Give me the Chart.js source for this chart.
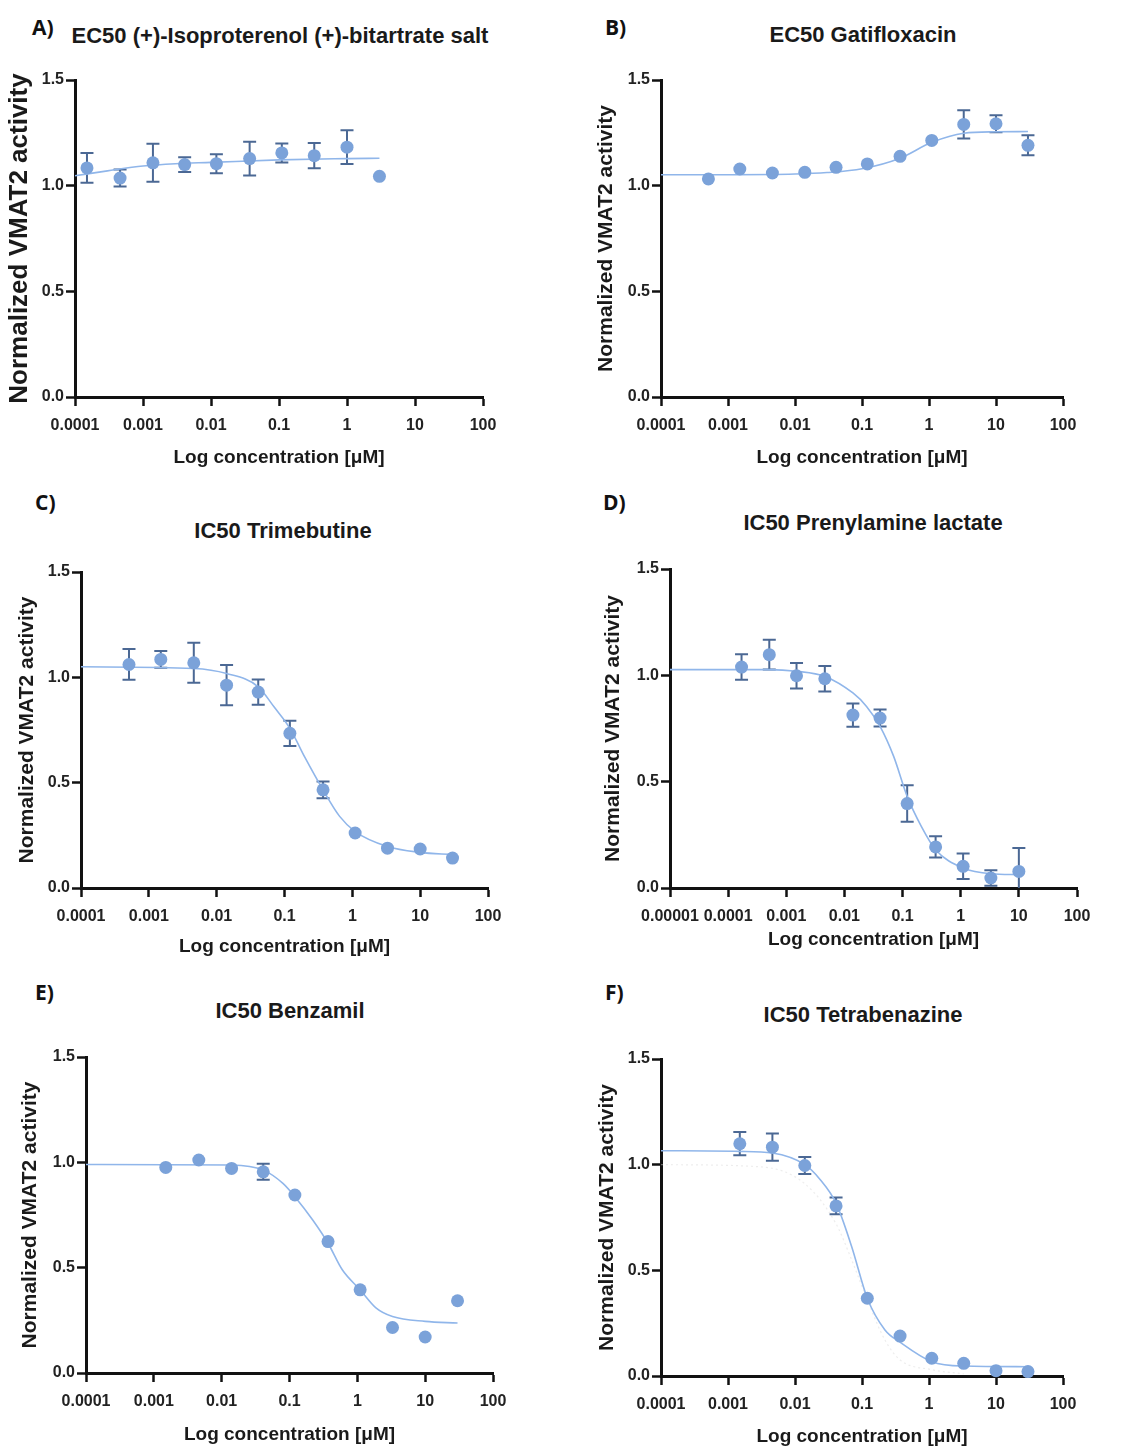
<!DOCTYPE html>
<html>
<head>
<meta charset="utf-8">
<script src="https://cdn.jsdelivr.net/npm/chart.js@4.4.1/dist/chart.umd.min.js"></script>
<style>
  body { margin: 0; background: #fff; }
  #page { position: relative; width: 1136px; height: 1452px; overflow: hidden; background: #fff; }
  .letter { position: absolute; font: bold 21px "Open Sans", sans-serif; line-height: 22px; color: #111; }
  .title { position: absolute; font: bold 22px "Liberation Sans", Arial, sans-serif; line-height: 22px;
           color: #1a1a1a; white-space: nowrap; transform: translateX(-50%); }
  canvas { position: absolute; }
</style>
</head>
<body>
<div id="page"></div>
<script>
// tick labels
const xTickLabels = ['0.0001', '0.001', '0.01', '0.1', '1', '10', '100'];
const xTickLabelsD = ['0.00001', '0.0001', '0.001', '0.01', '0.1', '1', '10', '100'];
const yTickLabels = ['0.0', '0.5', '1.0', '1.5'];

// A) Isoproterenol
const concA = [0.00015, 0.00046, 0.0014, 0.0041, 0.012, 0.037, 0.11, 0.33, 1, 3];
const actA = [1.084, 1.036, 1.108, 1.100, 1.104, 1.128, 1.155, 1.142, 1.182, 1.044];
const errA = [0.07, 0.04, 0.09, 0.035, 0.045, 0.08, 0.045, 0.06, 0.08, 0];
const fitConcA = [0.0001, 0.0003, 0.001, 0.003, 0.01, 0.1, 1, 3];
const fitActA = [1.047, 1.07, 1.093, 1.104, 1.11, 1.122, 1.128, 1.13];

// B) Gatifloxacin
const concB = [0.00051, 0.0015, 0.0046, 0.014, 0.041, 0.12, 0.37, 1.1, 3.3, 10, 30];
const actB = [1.032, 1.079, 1.060, 1.063, 1.087, 1.103, 1.139, 1.214, 1.290, 1.293, 1.191];
const errB = [0, 0, 0, 0, 0, 0, 0, 0, 0.067, 0.04, 0.047];
const fitConcB = [0.0001, 0.001, 0.01, 0.03, 0.1, 0.37, 1.1, 3.3, 10, 30];
const fitActB = [1.052, 1.052, 1.055, 1.062, 1.08, 1.13, 1.205, 1.248, 1.255, 1.256];

// C) Trimebutine
const concC = [0.00051, 0.0015, 0.0046, 0.014, 0.041, 0.12, 0.37, 1.1, 3.3, 10, 30];
const actC = [1.061, 1.085, 1.069, 0.963, 0.930, 0.734, 0.466, 0.261, 0.189, 0.185, 0.142];
const errC = [0.073, 0.04, 0.095, 0.095, 0.06, 0.06, 0.04, 0, 0, 0, 0];
const fitConcC = [0.0001, 0.0046, 0.014, 0.041, 0.07, 0.12, 0.2, 0.37, 0.65, 1.1, 3.3, 10, 30];
const fitActC = [1.05, 1.042, 1.018, 0.955, 0.86, 0.758, 0.62, 0.466, 0.34, 0.268, 0.197, 0.169, 0.158];

// D) Prenylamine lactate
const concD = [0.00017, 0.00051, 0.0015, 0.0046, 0.014, 0.041, 0.12, 0.37, 1.1, 3.3, 10];
const actD = [1.039, 1.097, 0.998, 0.984, 0.813, 0.799, 0.397, 0.193, 0.102, 0.047, 0.078];
const errD = [0.06, 0.07, 0.06, 0.06, 0.055, 0.04, 0.086, 0.05, 0.06, 0.037, 0.11];
const fitConcD = [0.00001, 0.0005, 0.0015, 0.0046, 0.014, 0.024, 0.041, 0.07, 0.12, 0.21, 0.37, 1.1, 3.3, 10];
const fitActD = [1.027, 1.027, 1.019, 0.995, 0.917, 0.854, 0.76, 0.62, 0.431, 0.29, 0.18, 0.094, 0.067, 0.063];

// E) Benzamil
const concE = [0.0015, 0.0046, 0.014, 0.041, 0.12, 0.37, 1.1, 3.3, 10, 30];
const actE = [0.976, 1.011, 0.971, 0.955, 0.845, 0.624, 0.395, 0.216, 0.171, 0.343];
const errE = [0, 0, 0, 0.038, 0, 0, 0, 0, 0, 0];
const fitConcE = [0.0001, 0.014, 0.041, 0.08, 0.12, 0.22, 0.37, 0.6, 1.1, 1.9, 3.3, 10, 30];
const fitActE = [0.99, 0.987, 0.963, 0.90, 0.837, 0.726, 0.616, 0.49, 0.395, 0.308, 0.268, 0.245, 0.237];

// F) Tetrabenazine
const concF = [0.0015, 0.0046, 0.014, 0.041, 0.12, 0.37, 1.1, 3.3, 10, 30];
const actF = [1.099, 1.083, 0.996, 0.805, 0.368, 0.189, 0.084, 0.060, 0.025, 0.021];
const errF = [0.055, 0.065, 0.04, 0.04, 0, 0, 0, 0, 0, 0];
const fitConcF = [0.0001, 0.0015, 0.0046, 0.014, 0.024, 0.041, 0.07, 0.12, 0.22, 0.37, 1.1, 3.3, 30];
const fitActF = [1.066, 1.063, 1.055, 1.0, 0.928, 0.818, 0.613, 0.368, 0.218, 0.16, 0.068, 0.047, 0.044];
// faint dotted curve behind the fit in F
const ghostConcF = [0.0001, 0.003, 0.014, 0.041, 0.07, 0.12, 0.22, 0.37, 1.1, 3.3];
const ghostActF = [1.0, 0.99, 0.91, 0.72, 0.55, 0.36, 0.17, 0.076, 0.03, 0.01];

const pointColor = '#7ba2d9';
const barColor = '#4b6894';
const fitColor = '#90b6ea';

// layout of the six panels: plot area [left, top, right, bottom] in page pixels
const panels = [
  { letter: 'A)', lx: 32, ly: 20, title: 'EC50 (+)-Isoproterenol (+)-bitartrate salt', tx: 280, ty: 28,
    area: [75, 80, 483, 397], conc: concA, act: actA, err: errA, fitX: fitConcA, fitY: fitActA,
    ticks: xTickLabels, yTitleX: 20, yFont: 26, xGap: 61 },
  { letter: 'B)', lx: 605, ly: 20, title: 'EC50 Gatifloxacin', tx: 863, ty: 27,
    area: [661, 80, 1063, 397], conc: concB, act: actB, err: errB, fitX: fitConcB, fitY: fitActB,
    ticks: xTickLabels, yTitleX: 606, yFont: 21, xGap: 61 },
  { letter: 'C)', lx: 35, ly: 495, title: 'IC50 Trimebutine', tx: 283, ty: 523,
    area: [81, 572, 488, 888], conc: concC, act: actC, err: errC, fitX: fitConcC, fitY: fitActC,
    ticks: xTickLabels, yTitleX: 27, yFont: 21, xGap: 59 },
  { letter: 'D)', lx: 603, ly: 495, title: 'IC50 Prenylamine lactate', tx: 873, ty: 515,
    area: [670, 569, 1077, 888], conc: concD, act: actD, err: errD, fitX: fitConcD, fitY: fitActD,
    ticks: xTickLabelsD, yTitleX: 613, yFont: 21, xGap: 52 },
  { letter: 'E)', lx: 35, ly: 985, title: 'IC50 Benzamil', tx: 290, ty: 1003,
    area: [86, 1057, 493, 1373], conc: concE, act: actE, err: errE, fitX: fitConcE, fitY: fitActE,
    ticks: xTickLabels, yTitleX: 30, yFont: 21, xGap: 62 },
  { letter: 'F)', lx: 605, ly: 985, title: 'IC50 Tetrabenazine', tx: 863, ty: 1007,
    area: [661, 1059, 1063, 1376], conc: concF, act: actF, err: errF, fitX: fitConcF, fitY: fitActF,
    ghostX: ghostConcF, ghostY: ghostActF,
    ticks: xTickLabels, yTitleX: 607, yFont: 21, xGap: 61 }
];

// draws mean +/- error bars with caps, under the markers
const errorBars = {
  id: 'errorBars',
  beforeDatasetsDraw(chart) {
    const ds = chart.data.datasets[0];
    const xs = chart.scales.x, ys = chart.scales.y;
    const ctx = chart.ctx;
    ctx.save();
    ctx.beginPath();
    ctx.rect(chart.chartArea.left, chart.chartArea.top - 10, chart.chartArea.width, chart.chartArea.height + 10);
    ctx.clip();
    ctx.strokeStyle = barColor;
    ctx.lineWidth = 2;
    ds.data.forEach((p, i) => {
      const e = ds.errors[i];
      if (!e) return;
      const px = xs.getPixelForValue(p.x);
      const top = ys.getPixelForValue(p.y + e);
      const bot = ys.getPixelForValue(p.y - e);
      ctx.beginPath();
      ctx.moveTo(px, top); ctx.lineTo(px, bot);
      ctx.moveTo(px - 6.5, top); ctx.lineTo(px + 6.5, top);
      ctx.moveTo(px - 6.5, bot); ctx.lineTo(px + 6.5, bot);
      ctx.stroke();
    });
    ctx.restore();
  }
};

const page = document.getElementById('page');
const PAD_L = 75, PAD_T = 20, PAD_R = 35, PAD_B = 80;

panels.forEach(p => {
  const [l, t, r, b] = p.area;

  const letter = document.createElement('div');
  letter.className = 'letter';
  letter.textContent = p.letter;
  letter.style.left = p.lx + 'px';
  letter.style.top = (p.ly - 4) + 'px';
  page.appendChild(letter);

  const title = document.createElement('div');
  title.className = 'title';
  title.textContent = p.title;
  title.style.left = p.tx + 'px';
  title.style.top = (p.ty - 3) + 'px';
  page.appendChild(title);

  const canvas = document.createElement('canvas');
  const cw = (r - l) + PAD_L + PAD_R;
  const ch = (b - t) + PAD_T + PAD_B;
  canvas.width = cw; canvas.height = ch;
  canvas.style.left = (l - PAD_L) + 'px';
  canvas.style.top = (t - PAD_T) + 'px';
  canvas.style.width = cw + 'px';
  canvas.style.height = ch + 'px';
  page.appendChild(canvas);

  const tickValues = p.ticks.map(Number);
  const yFontLine = p.yFont * 1.2;
  const xFont = 19, xFontLine = xFont * 1.2;

  const datasets = [
    {
      type: 'scatter',
      data: p.conc.map((c, i) => ({ x: c, y: p.act[i] })),
      errors: p.err,
      backgroundColor: pointColor,
      borderWidth: 0,
      pointRadius: 6.5,
      pointHoverRadius: 6.5,
      clip: 10
    },
    {
      type: 'line',
      data: p.fitX.map((c, i) => ({ x: c, y: p.fitY[i] })),
      borderColor: fitColor,
      borderWidth: 1.6,
      pointRadius: 0,
      fill: false,
      cubicInterpolationMode: 'monotone'
    }
  ];
  if (p.ghostX) {
    datasets.push({
      type: 'line',
      data: p.ghostX.map((c, i) => ({ x: c, y: p.ghostY[i] })),
      borderColor: 'rgba(215,215,215,0.45)',
      borderWidth: 1.2,
      borderDash: [2, 3],
      pointRadius: 0,
      fill: false,
      cubicInterpolationMode: 'monotone'
    });
  }

  new Chart(canvas, {
    data: { datasets: datasets },
    options: {
      responsive: false,
      animation: false,
      devicePixelRatio: 1,
      layout: { padding: { left: 0, top: PAD_T, right: PAD_R, bottom: 0 } },
      plugins: { legend: { display: false }, tooltip: { enabled: false } },
      scales: {
        x: {
          type: 'logarithmic',
          min: tickValues[0],
          max: tickValues[tickValues.length - 1],
          afterBuildTicks: scale => { scale.ticks = tickValues.map(v => ({ value: v })); },
          afterFit: scale => { scale.height = PAD_B; },
          ticks: {
            autoSkip: false, maxRotation: 0, minRotation: 0, padding: 10,
            color: '#222', font: { family: 'Liberation Sans', size: 16, weight: 'bold' },
            callback: (v, i) => p.ticks[i]
          },
          grid: { drawOnChartArea: false, drawTicks: true, tickLength: 9, tickWidth: 2.5, tickColor: '#111' },
          border: { display: true, color: '#111', width: 3 },
          title: {
            display: true, text: 'Log concentration [μM]', color: '#1a1a1a',
            font: { family: 'Liberation Sans', size: xFont, weight: 'bold' },
            padding: { top: 0, bottom: PAD_B - p.xGap - xFontLine / 2 }
          }
        },
        y: {
          type: 'linear',
          min: 0, max: 1.5,
          afterBuildTicks: scale => { scale.ticks = yTickLabels.map(s => ({ value: Number(s) })); },
          afterFit: scale => { scale.width = PAD_L; },
          ticks: {
            padding: 2, color: '#222', font: { family: 'Liberation Sans', size: 16, weight: 'bold' },
            callback: (v, i) => yTickLabels[i]
          },
          grid: { drawOnChartArea: false, drawTicks: true, tickLength: 9, tickWidth: 2.5, tickColor: '#111' },
          border: { display: true, color: '#111', width: 3 },
          title: {
            display: true, text: 'Normalized VMAT2 activity', color: '#1a1a1a',
            font: { family: 'Liberation Sans', size: p.yFont, weight: 'bold' },
            padding: { top: (p.yTitleX - (l - PAD_L)) - yFontLine / 2, bottom: 0 }
          }
        }
      }
    },
    plugins: [errorBars]
  });
});
</script>
</body>
</html>
